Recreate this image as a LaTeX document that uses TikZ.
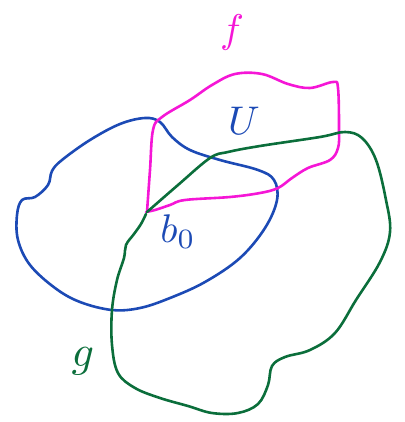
\documentclass[tikz,border=0pt]{standalone}
\definecolor{penblue}{HTML}{1C4AB5}
\definecolor{penpink}{HTML}{F516D6}
\definecolor{pengreen}{HTML}{0B6E3B}
\tikzset{
    pen/.style={line width=2.6pt, line join=round, line cap=round},
    hand/.style={scale=4, transform shape, inner sep=0pt}
}
\begin{document}
\begin{tikzpicture}[x=1pt, y=-1pt]
    \useasboundingbox (0,0) rectangle (404,422);
    \draw[pen, penblue] plot[smooth cycle, tension=0.6] coordinates {
        (145,118) (120,124) (90,140) (62,160) (52,171) (48,185) (35,197)
        (22,200) (17,215) (18,240) (30,265) (55,288) (80,302) (112,310)
        (140,308) (170,298) (205,282) (240,258) (265,228) (277,200)
        (274,180) (258,170) (220,160) (190,150) (172,137) (160,122)};
    \draw[pen, penpink] plot[smooth, tension=0.6] coordinates {
        (147,212) (150,170) (153,130) (162,117) (190,100) (212,85) (235,74)
        (262,74) (288,84) (310,88) (333,82) (338,88) (339,130) (338,148)
        (330,160) (308,168) (292,178) (278,188) (260,193) (230,197)
        (185,200) (170,205) (155,210) (146,212)};
    \draw[pen, pengreen] plot[smooth, tension=0.6] coordinates {
        (147,212) (178,185) (210,158) (228,152) (260,146) (320,137)
        (345,132) (362,138) (376,160) (386,200) (390,232) (380,262)
        (356,300) (335,333) (310,350) (285,357) (272,366) (268,385)
        (258,404) (238,413) (212,413) (188,406) (160,398) (135,388)
        (118,373) (112,345) (112,310) (117,280) (124,258) (126,245)
        (134,234) (141,224) (146,214)};
    \node[hand, penpink] (lblf) at (232,33) {$f$};
    \node[hand, penblue] (lblU) at (244,121) {$U$};
    \node[hand, penblue] (lblb) at (178,232) {$b_0$};
    \node[hand, pengreen, scale=1.1] (lblg) at (83,361) {$g$};
\end{tikzpicture}
\end{document}
